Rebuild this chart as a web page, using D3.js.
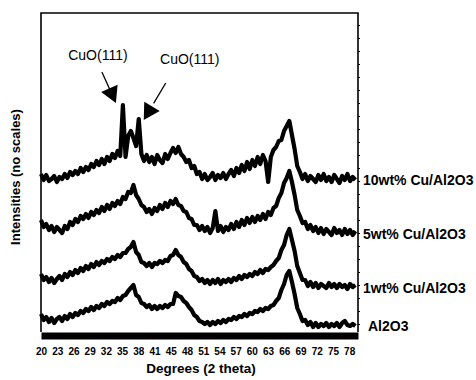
<!DOCTYPE html>
<html>
<head>
<meta charset="utf-8">
<script src="https://cdn.jsdelivr.net/npm/d3@7"></script>
<style>
  body { margin: 0; background: #fff; }
  svg { display: block; font-family: Arial, "Liberation Sans", sans-serif; }
</style>
</head>
<body>
<div id="chart"></div>
<script>
// 2 theta sampling grid (degrees)
var twoTheta = [20,20.5,21,21.5,22,22.5,23,23.5,24,24.5,25,25.5,26,26.5,27,27.5,28,28.5,29,29.5,
    30,30.5,31,31.5,32,32.5,33,33.5,34,34.5,35,35.5,36,36.5,37,37.5,38,38.5,39,39.5,
    40,40.5,41,41.5,42,42.5,43,43.5,44,44.5,45,45.5,46,46.5,47,47.5,48,48.5,49,49.5,
    50,50.5,51,51.5,52,52.5,53,53.5,54,54.5,55,55.5,56,56.5,57,57.5,58,58.5,59,59.5,
    60,60.5,61,61.5,62,62.5,63,63.5,64,64.5,65,65.5,66,66.5,67,67.5,68,68.5,69,69.5,
    70,70.5,71,71.5,72,72.5,73,73.5,74,74.5,75,75.5,76,76.5,77,77.5,78,78.5,79,79.5];

// stacked intensities (arbitrary units, as plotted)
var cu10 = [158,152,157,151,153,156,150,155,153,158,154,160,157,161,158,164,160,165,162,168,
    165,171,167,173,168,175,171,178,174,181,176,227,175,196,201,194,186,213,178,171,
    177,170,175,168,177,172,169,178,173,179,184,179,185,178,175,170,172,164,166,158,
    160,153,158,152,155,159,152,157,154,159,153,158,162,156,164,159,167,161,170,163,
    172,166,175,168,177,171,150,175,182,185,191,192,201,206,211,197,183,166,160,153,
    158,151,156,153,150,157,152,158,151,155,150,157,153,149,156,152,158,151,155,152];

var cu5 = [112,105,108,102,106,100,105,102,99,106,103,110,107,113,110,116,113,118,114,120,
    117,122,119,125,121,127,123,129,126,131,128,135,133,140,139,147,137,133,127,125,
    120,123,118,124,121,127,123,129,125,131,128,133,127,126,121,120,114,113,107,107,
    102,106,101,105,99,104,121,101,106,100,105,102,108,103,110,105,112,107,114,109,
    115,110,116,112,118,113,120,117,124,126,134,139,149,154,161,150,137,122,116,109,
    110,103,107,101,105,99,104,98,103,100,97,104,99,102,97,103,98,102,97,101];

var cu1 = [58,52,55,50,54,49,53,56,52,58,55,60,57,62,59,64,61,66,63,68,
    65,70,67,71,69,73,71,75,73,77,75,79,79,83,85,90,80,77,70,69,
    66,69,65,69,68,71,69,72,71,76,77,82,77,75,70,68,63,61,56,55,
    51,53,49,52,48,52,49,53,48,52,50,53,50,54,52,56,53,57,55,58,
    56,60,58,62,59,63,62,65,67,71,74,82,87,97,103,92,81,66,59,52,
    52,46,50,45,49,44,48,46,44,49,45,48,44,48,45,47,43,48,45,47];

var al2o3 = [18,12,15,10,14,9,13,15,11,16,13,18,15,19,17,21,19,23,21,25,
    22,26,24,28,26,30,28,31,30,34,32,36,37,41,44,47,37,35,29,28,
    25,27,23,26,23,26,24,27,25,28,28,39,36,35,31,29,25,22,17,15,
    11,10,8,10,7,10,8,11,9,12,10,13,12,15,13,16,15,18,16,19,
    18,21,20,23,21,24,23,26,27,31,34,42,48,57,61,50,38,24,18,11,
    12,7,10,5,9,5,8,6,9,5,8,6,9,5,9,11,7,6,8,6];

var seriesNames = ["10wt% Cu/Al2O3", "5wt% Cu/Al2O3", "1wt% Cu/Al2O3", "Al2O3"];
var seriesValues = [cu10, cu5, cu1, al2o3];

var tickDegrees = [20,23.07,26.14,29.21,32.28,35.35,38.42,41.49,44.56,47.63,
    50.7,53.77,56.84,59.91,62.98,66.05,69.12,72.19,75.26,78.33];
var tickLabels = ["20","23","26","29","32","35","38","41","45","48",
    "51","54","57","60","63","66","69","72","75","78"];

// CuO(111) reflections marked on the 10 wt% trace
var cuoPeaks = [35.5, 38.5];
var cuoText = ["CuO(111)", "CuO(111)"];

var width = 476, height = 380;

var svg = d3.select("#chart").append("svg")
    .attr("width", width)
    .attr("height", height);

var x = d3.scaleLinear().domain([20, 80]).range([41, 358]);
var y = d3.scaleLinear().domain([0, 319]).range([332, 13]);

// frame
svg.append("path")
    .attr("d", "M" + x(20) + "," + y(0) + "V" + y(319) + "H" + x(80) + "V" + y(0))
    .attr("fill", "none")
    .attr("stroke", "#000")
    .attr("stroke-width", 1.6);

// little ticks on the right edge
var yAxisR = d3.axisRight(y).tickValues(d3.range(8, 319, 13)).tickSize(2).tickFormat("");
svg.append("g")
    .attr("transform", "translate(" + x(80) + ",0)")
    .call(yAxisR)
    .call(function(g) { g.select(".domain").remove(); })
    .selectAll("line").attr("stroke-width", 1.2);

// x axis: thick bar + labels
var xAxis = d3.axisBottom(x)
    .tickValues(tickDegrees)
    .tickFormat(function(d, i) { return tickLabels[i]; })
    .tickSize(0)
    .tickSizeOuter(0)
    .tickPadding(12);

var gx = svg.append("g")
    .attr("transform", "translate(0,335.5)")
    .call(xAxis);
gx.select(".domain").attr("stroke-width", 7).attr("stroke", "#000");
gx.selectAll("text")
    .attr("font-size", 10)
    .attr("font-weight", "bold")
    .attr("font-family", "Arial, 'Liberation Sans', sans-serif")
    .attr("fill", "#000");

// traces
var line = d3.line()
    .x(function(d, i) { return x(twoTheta[i]); })
    .y(function(d) { return y(d); });

svg.selectAll(".trace")
    .data(seriesValues)
    .enter()
    .append("path")
    .attr("class", "trace")
    .attr("d", line)
    .attr("fill", "none")
    .attr("stroke", "#000")
    .attr("stroke-width", 4.2)
    .attr("stroke-linejoin", "round");

// series labels to the right of the frame
svg.selectAll(".slabel")
    .data(seriesValues)
    .enter()
    .append("text")
    .attr("class", "slabel")
    .attr("x", function(d, i) { return i == 3 ? 368 : 363; })
    .attr("y", function(d) { return y(d3.mean(d.slice(-6))) + 3; })
    .attr("dominant-baseline", "middle")
    .attr("font-size", 14)
    .attr("font-weight", "bold")
    .text(function(d, i) { return seriesNames[i]; });

// CuO(111) annotations with arrows
var arrowSpecs = [
    { dx: -7, dy: -2, tx: -18, ty: -47, lx: -14, ly: -31, ang: -24 },
    { dx: 5, dy: 1, tx: 46, ty: -60, lx: 22, ly: -37, ang: 31 }
];

cuoPeaks.forEach(function(p, i) {
    var idx = twoTheta.indexOf(p);
    var tipX = x(p) + arrowSpecs[i].dx;
    var tipY = y(cu10[idx]) + arrowSpecs[i].dy;
    var s = arrowSpecs[i];

    svg.append("line")
        .attr("x1", tipX + s.lx)
        .attr("y1", tipY + s.ly)
        .attr("x2", tipX + s.lx * 0.45)
        .attr("y2", tipY + s.ly * 0.45)
        .attr("stroke", "#000")
        .attr("stroke-width", 1.3);

    svg.append("path")
        .attr("d", "M0,0L-9,-16L9,-16Z")
        .attr("transform", "translate(" + tipX + "," + tipY + ") rotate(" + s.ang + ")")
        .attr("fill", "#000");

    svg.append("text")
        .attr("x", tipX + s.tx)
        .attr("y", tipY + s.ty)
        .attr("text-anchor", "middle")
        .attr("dominant-baseline", "middle")
        .attr("font-size", 14)
        .attr("fill", "#000")
        .text(cuoText[i]);
});

// axis titles
svg.append("text")
    .attr("x", 201)
    .attr("y", 369)
    .attr("text-anchor", "middle")
    .attr("dominant-baseline", "middle")
    .attr("font-size", 13.5)
    .attr("font-weight", "bold")
    .text("Degrees (2 theta)");

svg.append("text")
    .attr("transform", "translate(17,177) rotate(-90)")
    .attr("text-anchor", "middle")
    .attr("dominant-baseline", "middle")
    .attr("font-size", 13)
    .attr("font-weight", "bold")
    .text("Intensities (no scales)");
</script>
</body>
</html>
